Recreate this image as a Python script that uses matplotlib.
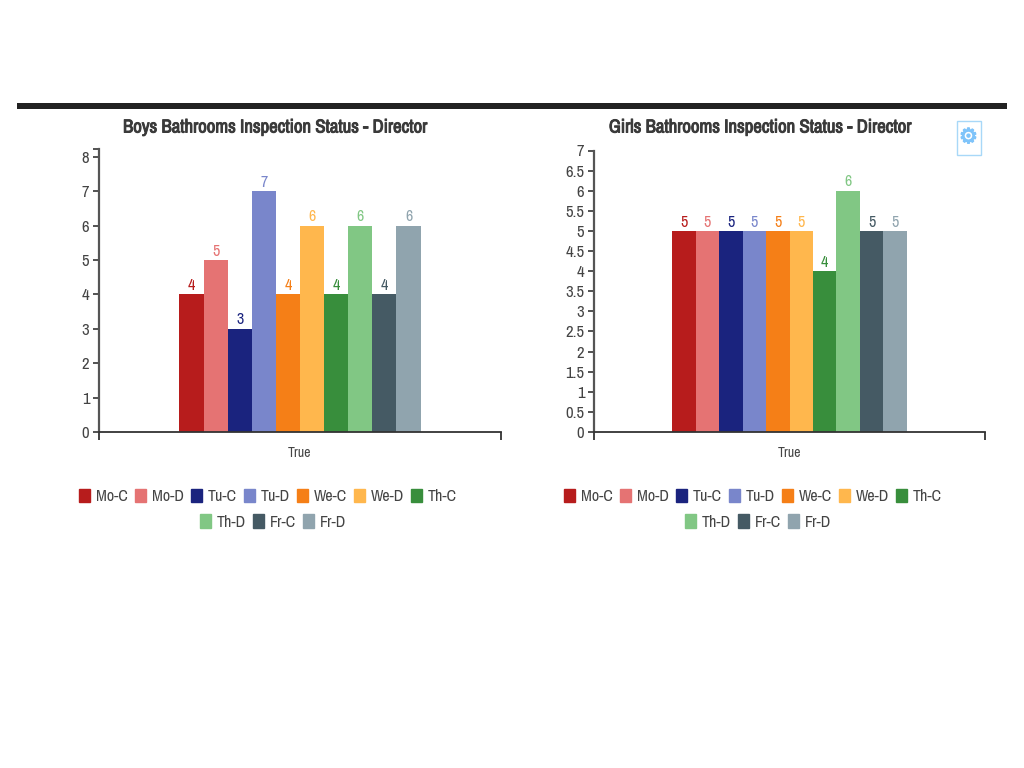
import matplotlib
matplotlib.use("Agg")
import matplotlib.pyplot as plt
import matplotlib.patheffects as pe
from matplotlib.patches import Rectangle, Patch
import numpy as np

plt.rcParams['font.family'] = ['Archivo Narrow', 'Liberation Sans', 'DejaVu Sans']

series = ['Mo-C', 'Mo-D', 'Tu-C', 'Tu-D', 'We-C', 'We-D', 'Th-C', 'Th-D', 'Fr-C', 'Fr-D']
colors = ['#b71c1c', '#e57373', '#1a237e', '#7986cb', '#f57f17',
          '#ffb74d', '#388e3c', '#81c784', '#455a64', '#90a4ae']
category = 'True'
boys = [4, 5, 3, 7, 4, 6, 4, 6, 4, 6]
girls = [5, 5, 5, 5, 5, 5, 4, 6, 5, 5]
boys_ticks = [0, 1, 2, 3, 4, 5, 6, 7, 8]
girls_ticks = [0, 0.5, 1, 1.5, 2, 2.5, 3, 3.5, 4, 4.5, 5, 5.5, 6, 6.5, 7]
boys_title = 'Boys Bathrooms Inspection Status - Director'
girls_title = 'Girls Bathrooms Inspection Status - Director'

W, H = 1024, 768
fig = plt.figure(figsize=(W / 100, H / 100), dpi=100, facecolor='white')


def px_axes(x0, x1, ytop, ybot):
    return fig.add_axes([x0 / W, 1 - ybot / H, (x1 - x0) / W, (ybot - ytop) / H])


def tick_label(v):
    return f'{v:g}'


def draw(ax, values, ticks, ymax, title, title_x, legend_x, legend_x2):
    n = len(values)
    span = 0.6
    w = span / n
    xs = 0.5 - span / 2 + w * (np.arange(n) + 0.5)
    ax.bar(xs, values, width=w, color=colors, linewidth=0)
    for x, v, c in zip(xs, values, colors):
        ax.annotate(tick_label(v), (x, v), xytext=(0, 1), textcoords='offset points',
                    ha='center', va='bottom', color=c, fontsize=11.5)
    ax.set_xlim(0, 1)
    ax.set_ylim(0, ymax)
    for s in ('top', 'right'):
        ax.spines[s].set_visible(False)
    ax.spines['left'].set_color('#555555')
    ax.spines['left'].set_linewidth(1.6)
    ax.spines['bottom'].set_color('#333333')
    ax.spines['bottom'].set_linewidth(1.3)
    ax.set_yticks(ticks, [tick_label(t) for t in ticks])
    ax.set_yticks([ymax], minor=True)
    ax.tick_params(axis='y', which='both', length=4.5, width=1.3, color='#444444',
                   labelcolor='#444444', labelsize=12, pad=2.5)
    ax.set_xticks([0, 1], ['', ''])
    ax.set_xticks([0.5], [category], minor=True)
    ax.tick_params(axis='x', which='major', length=6, width=1.3, color='#333333')
    ax.tick_params(axis='x', which='minor', length=0, labelsize=10, labelcolor='#444444', pad=10)
    fig.text(title_x / W, 1 - 127.5 / H, title, ha='center', va='center',
             fontsize=13.5, color='#3a3a3a',
             path_effects=[pe.withStroke(linewidth=0.7, foreground='#3a3a3a')])
    handles = [Patch(color=c, label=s) for c, s in zip(colors, series)]
    kw = dict(frameon=False, fontsize=11.5, handlelength=0.69, handleheight=0.88,
              handletextpad=0.38, columnspacing=0.43, labelcolor='#444444',
              loc='center', borderpad=0, borderaxespad=0)
    fig.legend(handles=handles[:7], ncols=7,
               bbox_to_anchor=(legend_x / W, 1 - 496.5 / H), **kw)
    fig.legend(handles=handles[7:], ncols=3,
               bbox_to_anchor=(legend_x2 / W, 1 - 522 / H), **kw)


ax1 = px_axes(99, 501, 149, 432)
draw(ax1, boys, boys_ticks, 283 / 34.4, boys_title, 275, 268, 273)
ax2 = px_axes(594, 985, 150.5, 432)
draw(ax2, girls, girls_ticks, 7, girls_title, 760, 753, 758)

fig.add_artist(Rectangle((17 / W, 1 - 108.5 / H), 990 / W, 5.5 / H, transform=fig.transFigure,
                         facecolor='#222222', edgecolor='none'))
fig.add_artist(Rectangle((956.5 / W, 1 - 155 / H), 24 / W, 34 / H, transform=fig.transFigure,
                         facecolor='white', edgecolor='#a8d8f8', linewidth=1))
fig.text(968.5 / W, 1 - 137 / H, '\u2699', ha='center', va='center', fontsize=15,
         color='#7fc4fa', family='DejaVu Sans',
         path_effects=[pe.withStroke(linewidth=0.9, foreground='#7fc4fa')])

fig.savefig('out.png', dpi=100)
